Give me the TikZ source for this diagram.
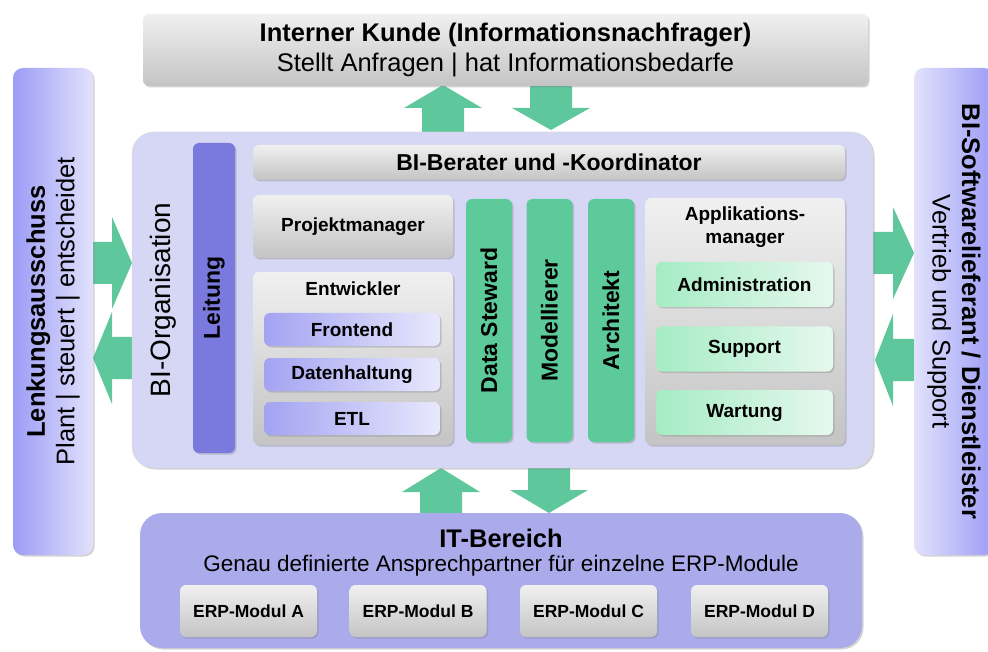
\documentclass[tikz,border=0pt]{standalone}
\usepackage{fontspec}
\setmainfont{Liberation Sans}
\usetikzlibrary{shadows}

\definecolor{flowgreen}{RGB}{94,199,156}
\definecolor{bargreen}{RGB}{93,202,156}
\definecolor{leitblue}{RGB}{122,122,222}
\definecolor{orgfill}{RGB}{214,214,245}
\definecolor{itfill}{RGB}{171,170,234}
\definecolor{lilaA}{RGB}{226,226,252}
\definecolor{lilaB}{RGB}{156,156,246}
\definecolor{subA}{RGB}{163,163,242}
\definecolor{subB}{RGB}{232,232,253}
\definecolor{mintA}{RGB}{165,236,196}
\definecolor{mintB}{RGB}{230,248,238}
\definecolor{grayA}{RGB}{240,240,240}
\definecolor{grayB}{RGB}{196,196,196}

\tikzset{
  box/.style={rounded corners=6pt, inner sep=0pt, align=center,
    drop shadow={opacity=0.35, shadow xshift=1.5pt, shadow yshift=-1.5pt}},
  graybox/.style={box, top color=grayA, bottom color=grayB},
  lilabox/.style={box, rounded corners=10pt},
  subbox/.style={box, left color=subA, right color=subB},
  mintbox/.style={box, left color=mintA, right color=mintB},
  barbox/.style={box, fill=bargreen, rotate=90},
  big/.style={font=\fontsize{25.5}{29.5}\selectfont},
  mid/.style={font=\fontsize{23}{27}\selectfont\bfseries},
  small/.style={font=\fontsize{19}{23}\selectfont\bfseries},
  tiny/.style={font=\fontsize{17.5}{20}\selectfont\bfseries},
}

% block arrows: vertical (x, tail, tip, head base) and horizontal (y, tail, tip, head base)
\newcommand{\vflow}[4]{\fill[flowgreen] (#1-21,#2)--(#1-21,#4)--(#1-39,#4)--(#1,#3)
  --(#1+39,#4)--(#1+21,#4)--(#1+21,#2)--cycle;}
\newcommand{\hflow}[4]{\fill[flowgreen] (#2,#1-21)--(#4,#1-21)--(#4,#1-46)--(#3,#1)
  --(#4,#1+46)--(#4,#1+21)--(#2,#1+21)--cycle;}

\begin{document}
\begin{tikzpicture}[x=1pt, y=-1pt]
\useasboundingbox[fill=white] (0,0) rectangle (988,652);

% arrows
\vflow{443}{132}{85}{108}
\vflow{551}{84}{130}{108}
\vflow{441}{513}{468}{492}
\vflow{549}{468}{513}{490}
\hflow{263}{93}{132}{112}
\hflow{358}{132}{93}{112}
\hflow{253}{873}{914}{893}
\hflow{360}{914}{875}{893}

% outer boxes
\node[graybox, big, minimum width=725pt, minimum height=72pt] (kunde) at (505.5,50)
  {\textbf{Interner Kunde (Informationsnachfrager)}\\Stellt Anfragen | hat Informationsbedarfe};
\node[lilabox, big, left color=lilaB, right color=lilaA, rotate=90,
  minimum width=487pt, minimum height=80pt] (lenk) at (53,311.5)
  {\textbf{Lenkungsausschuss}\\Plant | steuert | entscheidet};
\node[lilabox, big, left color=lilaA, right color=lilaB, rotate=-90,
  minimum width=487pt, minimum height=80pt] (soft) at (954,311.5)
  {\textbf{BI-Softwarelieferant / Dienstleister}\\Vertrieb und Support};
\node[lilabox, rounded corners=22pt, fill=orgfill, draw=black!15,
  minimum width=741pt, minimum height=336pt] (org) at (502.5,300) {};
\node[font=\fontsize{28}{32}\selectfont, rotate=90] (orgT) at (163,300) {BI-Organisation};
\node[lilabox, rounded corners=22pt, fill=itfill,
  minimum width=722pt, minimum height=135pt] (it) at (501,580.5) {};
\node[font=\fontsize{25.5}{29}\selectfont\bfseries] (itT) at (501,538) {IT-Bereich};
\node[font=\fontsize{22.5}{26}\selectfont] (itS) at (501,566) {Genau definierte Ansprechpartner für einzelne ERP-Module};

% BI-Organisation inside
\node[box, fill=leitblue, rotate=90, mid, minimum width=310pt, minimum height=42pt] (leit) at (214,298) {Leitung};
\node[graybox, mid, minimum width=592pt, minimum height=35pt] (berater) at (549,162.5) {BI-Berater und -Koordinator};
\node[graybox, small, minimum width=200pt, minimum height=63pt] (projekt) at (353,226.5) {Projektmanager};
\node[graybox, minimum width=200pt, minimum height=173pt] (entw) at (353,358.5) {};
\node[small] (entwT) at (353,289) {Entwickler};
\node[subbox, small, minimum width=176pt, minimum height=33pt] (front) at (352,329.5) {Frontend};
\node[subbox, small, minimum width=176pt, minimum height=33pt] (daten) at (352,374.5) {Datenhaltung};
\node[subbox, small, minimum width=176pt, minimum height=33pt] (etl) at (352,418.5) {ETL};
\node[barbox, mid, minimum width=243pt, minimum height=46pt] (steward) at (489,320.5) {Data Steward};
\node[barbox, mid, minimum width=243pt, minimum height=46pt] (modell) at (549.5,320.5) {Modellierer};
\node[barbox, mid, minimum width=243pt, minimum height=46pt] (archi) at (611,320.5) {Architekt};
\node[graybox, minimum width=200pt, minimum height=247pt] (appl) at (745,321.5) {};
\node[small, align=center] (applT) at (745,227) {Applikations-\\manager};
\node[mintbox, small, minimum width=177pt, minimum height=45pt] (admin) at (744.5,284.5) {Administration};
\node[mintbox, small, minimum width=177pt, minimum height=45pt] (supp) at (744.5,349) {Support};
\node[mintbox, small, minimum width=177pt, minimum height=45pt] (wart) at (744.5,412.5) {Wartung};

% ERP modules
\foreach \name/\x/\l in {erpA/248.5/A, erpB/418/B, erpC/588.5/C, erpD/759.5/D}
  \node[graybox, tiny, minimum width=137pt, minimum height=52pt] (\name) at (\x,611) {ERP-Modul \l};

\end{tikzpicture}
\end{document}
